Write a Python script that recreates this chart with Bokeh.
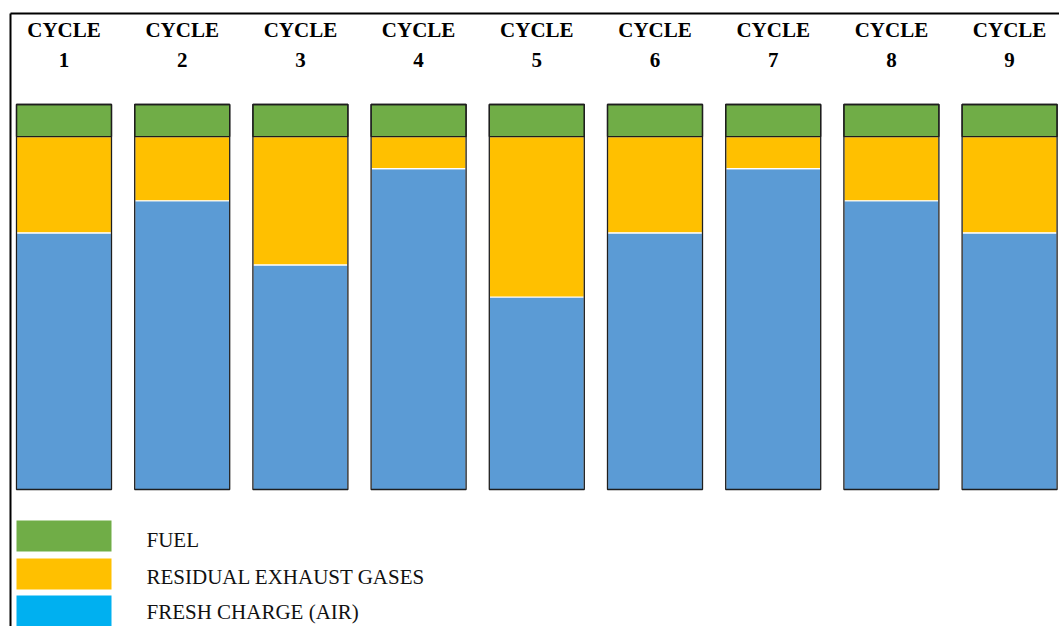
from bokeh.plotting import figure
from bokeh.models import ColumnDataSource, Range1d
from bokeh.embed import file_html
from bokeh.resources import INLINE
from bokeh.core.properties import value

# Cylinder charge composition per cycle (relative units, total = 12)
cycles = [1, 2, 3, 4, 5, 6, 7, 8, 9]
fresh_charge = [8, 9, 7, 10, 6, 8, 10, 9, 8]
residual_gases = [3, 2, 4, 1, 5, 3, 1, 2, 3]
fuel = [1, 1, 1, 1, 1, 1, 1, 1, 1]

legend_labels = ["FUEL", "RESIDUAL EXHAUST GASES", "FRESH CHARGE (AIR)"]
legend_colors = ["#70AD47", "#FFC000", "#00B0F0"]

GREEN, YELLOW, BLUE = "#70AD47", "#FFC000", "#5B9BD5"
EDGE = "#1e1e1e"
SERIF = value("Liberation Serif")

W, H = 1059, 626
PX_X = 118.2          # pixels per cycle step
PX_Y = 385 / 12       # pixels per unit of charge
BASE_PX = 489         # baseline, pixels from top
X0 = 1 - 63.5 / PX_X  # left edge of the plot in data units

p = figure(width=W, height=H, output_backend="svg", toolbar_location=None,
           min_border=0, min_border_left=0, min_border_right=0,
           min_border_top=0, min_border_bottom=0)
p.x_range = Range1d(X0, X0 + W / PX_X)
p.y_range = Range1d(-(H - BASE_PX) / PX_Y, BASE_PX / PX_Y)
p.axis.visible = False
p.grid.visible = False
p.outline_line_color = None
p.background_fill_color = "white"
p.border_fill_color = "white"

bw = 95 / PX_X
totals = [a + b + c for a, b, c in zip(fresh_charge, residual_gases, fuel)]
src = ColumnDataSource(dict(
    x=cycles,
    fresh_top=fresh_charge,
    res_top=[a + b for a, b in zip(fresh_charge, residual_gases)],
    total=totals,
))

# stacked segments
p.vbar(x="x", width=bw, bottom=0, top="fresh_top", source=src,
       fill_color=BLUE, line_color="white", line_width=1.2)
p.vbar(x="x", width=bw, bottom="fresh_top", top="res_top", source=src,
       fill_color=YELLOW, line_color="white", line_width=1.2)
p.vbar(x="x", width=bw, bottom="res_top", top="total", source=src,
       fill_color=GREEN, line_color=EDGE, line_width=1.3)
# dark outline around each whole bar
p.vbar(x="x", width=bw, bottom=0, top="total", source=src,
       fill_color=None, line_color=EDGE, line_width=1.3)

# column headings
head_y1 = (BASE_PX - 29) / PX_Y
head_y2 = (BASE_PX - 59) / PX_Y
p.text(x=cycles, y=[head_y1] * len(cycles), text=["CYCLE"] * len(cycles),
       text_font=SERIF, text_font_style="bold", text_font_size="21px",
       text_align="center", text_baseline="middle", text_color="black")
p.text(x=cycles, y=[head_y2] * len(cycles), text=[str(c) for c in cycles],
       text_font=SERIF, text_font_style="bold", text_font_size="21px",
       text_align="center", text_baseline="middle", text_color="black")

# legend
sw_y = [-(535.5 - BASE_PX) / PX_Y, -(573.5 - BASE_PX) / PX_Y, -(610.5 - BASE_PX) / PX_Y]
p.rect(x=[1] * 3, y=sw_y, width=bw, height=31 / PX_Y,
       fill_color=legend_colors, line_color=None)
txt_y = [-(539 - BASE_PX) / PX_Y, -(576 - BASE_PX) / PX_Y, -(611 - BASE_PX) / PX_Y]
p.text(x=[X0 + 146 / PX_X] * 3, y=txt_y, text=legend_labels,
       text_font=SERIF, text_font_size="21px", text_align="left",
       text_baseline="middle", text_color="#111111")

# frame lines along the top and left edges
frame_left = X0 + 10 / PX_X
frame_top = (BASE_PX - 13) / PX_Y
p.segment(x0=[frame_left, frame_left], y0=[frame_top, frame_top],
          x1=[X0 + W / PX_X, frame_left], y1=[frame_top, p.y_range.start],
          line_color="black", line_width=2)

open("out.html", "w").write(file_html(p, INLINE))
